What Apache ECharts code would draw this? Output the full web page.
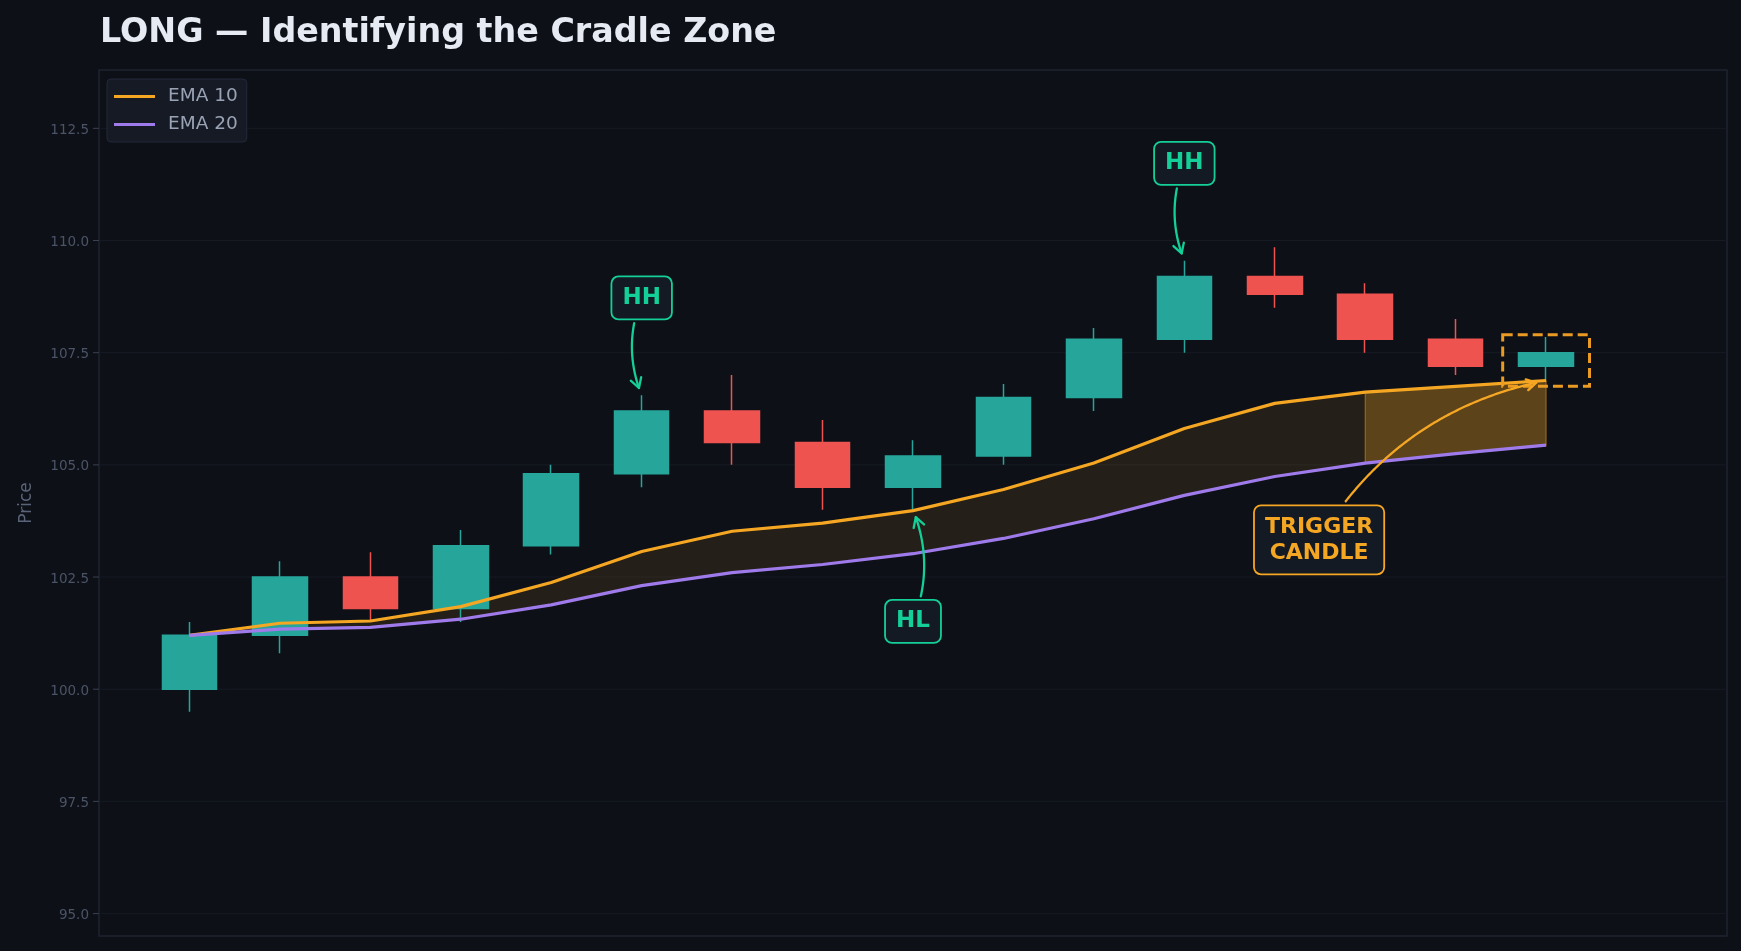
<!DOCTYPE html>
<html>
<head>
<meta charset="UTF-8">
<script src="https://cdn.jsdelivr.net/npm/echarts@6/dist/echarts.min.js"></script>
<style>
html, body { margin: 0; padding: 0; background: #0d1017; }
#chart { width: 1741px; height: 951px; }
</style>
</head>
<body>
<div id="chart"></div>
<script>
// ---------- data ----------
const opens  = [100.0, 101.2, 102.5, 101.8, 103.2, 104.8, 106.2, 105.5, 104.5, 105.2, 106.5, 107.8, 109.2, 108.8, 107.8, 107.2];
const closes = [101.2, 102.5, 101.8, 103.2, 104.8, 106.2, 105.5, 104.5, 105.2, 106.5, 107.8, 109.2, 108.8, 107.8, 107.2, 107.5];
const lows   = [99.5, 100.8, 101.5, 101.5, 103.0, 104.5, 105.0, 104.0, 104.0, 105.0, 106.2, 107.5, 108.5, 107.5, 107.0, 106.9];
const highs  = [101.5, 102.85, 103.05, 103.55, 105.0, 106.55, 107.0, 106.0, 105.55, 106.8, 108.05, 109.55, 109.85, 109.05, 108.25, 107.85];

const ema10 = [101.2, 101.47, 101.52, 101.84, 102.38, 103.07, 103.52, 103.7, 103.98, 104.45, 105.04, 105.81, 106.37, 106.62, 106.75, 106.88];
const ema20 = [101.2, 101.34, 101.38, 101.56, 101.88, 102.31, 102.6, 102.78, 103.02, 103.36, 103.8, 104.32, 104.74, 105.04, 105.25, 105.44];

const yTicks = [95, 97.5, 100, 102.5, 105, 107.5, 110, 112.5];
const cradleRange = [13, 15];

const noteLabels = ['HH', 'HL', 'HH', 'TRIGGER\nCANDLE'];
const noteAt     = [[5, 108.72], [8, 101.51], [11, 111.72], [12.49, 103.33]];
const noteTarget = [[5, highs[5]], [8, lows[8]], [11, highs[11]], [15, ema10[15]]];
const noteBend   = [0.2, 0.2, 0.2, -0.22];

const triggerFrame = [[14.52, 107.9], [15.48, 106.75]];

// ---------- look ----------
const BG = '#0d1017';
const GREEN = '#26a69a';
const RED = '#ef5350';
const ORANGE = '#f5a623';
const PURPLE = '#9f7aea';
const NOTE_GREEN = '#14cf98';
const FONT = 'DejaVu Sans';

const X_MIN = -1, X_MAX = 17;

const measureCtx = document.createElement('canvas').getContext('2d');

function textWidth(lines, font) {
    measureCtx.font = font;
    return Math.max.apply(null, lines.map(l => measureCtx.measureText(l).width));
}

// y grid, ticks and tick labels
function renderGrid(params, api) {
    const cs = params.coordSys;
    const v = api.value(1);
    const y = api.coord([X_MIN, v])[1];
    return {
        type: 'group',
        children: [
            { type: 'line', shape: { x1: cs.x, y1: y, x2: cs.x + cs.width, y2: y },
              style: { stroke: '#161a23', lineWidth: 1 } },
            { type: 'line', shape: { x1: cs.x - 6, y1: y, x2: cs.x, y2: y },
              style: { stroke: '#3a4152', lineWidth: 1 } },
            { type: 'text', x: cs.x - 10, y: y + 2,
              style: { text: v.toFixed(1), align: 'right', verticalAlign: 'middle',
                       fill: '#4b5467', font: '13.5px "' + FONT + '"' } }
        ]
    };
}

function bandPoints(api, from, to) {
    const pts = [];
    for (let i = from; i <= to; i++) pts.push(api.coord([i, ema10[i]]));
    for (let i = to; i >= from; i--) pts.push(api.coord([i, ema20[i]]));
    return pts;
}

function renderBand(params, api) {
    return {
        type: 'polygon',
        shape: { points: bandPoints(api, 0, ema10.length - 1) },
        style: { fill: 'rgba(245,166,35,0.1)' }
    };
}

function renderCradle(params, api) {
    return {
        type: 'polygon',
        shape: { points: bandPoints(api, cradleRange[0], cradleRange[1]) },
        style: { fill: 'rgba(245,166,35,0.27)', stroke: 'rgba(245,166,35,0.45)', lineWidth: 1.2 }
    };
}

function quad(p0, c, p2, t) {
    const u = 1 - t;
    return [u * u * p0[0] + 2 * u * t * c[0] + t * t * p2[0],
            u * u * p0[1] + 2 * u * t * c[1] + t * t * p2[1]];
}

function renderNote(params, api) {
    const idx = api.value(2);
    const label = noteLabels[idx];
    const lines = label.split('\n');
    const isTrigger = lines.length > 1;
    const color = isTrigger ? ORANGE : NOTE_GREEN;
    const size = isTrigger ? 22 : 23;
    const font = 'bold ' + size + 'px "' + FONT + '"';
    const lineH = 26;
    const w = textWidth(lines, font) + 22;
    const h = lines.length * lineH + 17;

    const c0 = api.coord(noteAt[idx]);
    const p2 = api.coord(noteTarget[idx]);
    const box = { x: c0[0] - w / 2, y: c0[1] - h / 2, w: w, h: h };

    // curved connector (arc-like quadratic), clipped at the box and shrunk at the target
    const dx = p2[0] - c0[0], dy = p2[1] - c0[1];
    const rad = noteBend[idx];
    const ctrl = [(c0[0] + p2[0]) / 2 - rad * dy, (c0[1] + p2[1]) / 2 + rad * dx];
    const shrink = isTrigger ? 8 : 7;
    const pts = [];
    for (let i = 0; i <= 120; i++) {
        const p = quad(c0, ctrl, p2, i / 120);
        const inside = p[0] > box.x - 3 && p[0] < box.x + box.w + 3 &&
                       p[1] > box.y - 3 && p[1] < box.y + box.h + 3;
        const near = Math.hypot(p[0] - p2[0], p[1] - p2[1]) < shrink;
        if (!inside && !near) pts.push(p);
    }
    const tip = pts[pts.length - 1];
    const prev = pts[pts.length - 4];
    const ang = Math.atan2(tip[1] - prev[1], tip[0] - prev[0]);
    const hl = 11, ha = 0.52;
    const head = [
        [tip[0] - hl * Math.cos(ang - ha), tip[1] - hl * Math.sin(ang - ha)],
        tip,
        [tip[0] - hl * Math.cos(ang + ha), tip[1] - hl * Math.sin(ang + ha)]
    ];

    return {
        type: 'group',
        children: [
            { type: 'polyline', shape: { points: pts },
              style: { stroke: color, lineWidth: 2.3, fill: null, lineCap: 'round' } },
            { type: 'polyline', shape: { points: head },
              style: { stroke: color, lineWidth: 2.3, fill: null, lineCap: 'round', lineJoin: 'round' } },
            { type: 'rect', shape: { x: box.x, y: box.y, width: box.w, height: box.h, r: 7 },
              style: { fill: '#131a23', stroke: color, lineWidth: 1.8 } },
            { type: 'text', x: c0[0], y: c0[1],
              style: { text: label, align: 'center', verticalAlign: 'middle',
                       font: font, fill: color, lineHeight: lineH } }
        ]
    };
}

function renderFrame(params, api) {
    const a = api.coord(triggerFrame[0]);
    const b = api.coord(triggerFrame[1]);
    return {
        type: 'rect',
        shape: { x: a[0], y: a[1], width: b[0] - a[0], height: b[1] - a[1] },
        style: { fill: null, stroke: '#eb9a22', lineWidth: 3, lineDash: [10, 5] }
    };
}

const chart = echarts.init(document.getElementById('chart'));

chart.setOption({
    animation: false,
    backgroundColor: BG,
    textStyle: { fontFamily: FONT },
    title: {
        text: 'LONG — Identifying the Cradle Zone',
        left: 100,
        top: 17,
        padding: 0,
        textStyle: { color: '#e6eaf2', fontSize: 33.3, fontWeight: 'bold', fontFamily: FONT }
    },
    legend: {
        data: ['EMA 10', 'EMA 20'],
        orient: 'vertical',
        left: 107,
        top: 79,
        icon: 'rect',
        itemWidth: 41,
        itemHeight: 3,
        itemGap: 9,
        padding: [8, 9, 8, 7],
        backgroundColor: '#151a24',
        borderColor: '#222939',
        borderWidth: 1,
        borderRadius: 4,
        textStyle: { color: '#9aa3b5', fontSize: 18.5, fontFamily: FONT, padding: [0, 0, 0, 8] }
    },
    grid: {
        left: 99, top: 70, right: 14, bottom: 15,
        show: true,
        backgroundColor: BG,
        borderColor: '#1e2331',
        borderWidth: 1.5
    },
    xAxis: {
        type: 'value', min: X_MIN, max: X_MAX,
        axisLine: { show: false }, axisTick: { show: false },
        axisLabel: { show: false }, splitLine: { show: false }
    },
    yAxis: {
        type: 'value', min: 94.5, max: 113.8,
        name: 'Price',
        nameLocation: 'middle',
        nameGap: 64,
        nameTextStyle: { color: '#5a6478', fontSize: 17, fontFamily: FONT },
        axisLine: { show: false }, axisTick: { show: false },
        axisLabel: { show: false }, splitLine: { show: false }
    },
    series: [
        {
            type: 'custom', name: 'grid', z: 0, silent: true,
            renderItem: renderGrid,
            data: yTicks.map(v => [X_MIN, v])
        },
        {
            type: 'custom', name: 'band', z: 1, silent: true,
            renderItem: renderBand,
            data: [[0, ema20[0]]]
        },
        {
            type: 'candlestick', name: 'candles', z: 2,
            barWidth: 55,
            encode: { x: 0, y: [1, 2, 3, 4] },
            itemStyle: {
                color: GREEN, color0: RED,
                borderColor: GREEN, borderColor0: RED,
                borderWidth: 1.5
            },
            data: opens.map((o, i) => [i, o, closes[i], lows[i], highs[i]])
        },
        {
            type: 'custom', name: 'cradle', z: 3, silent: true,
            renderItem: renderCradle,
            data: [[cradleRange[0], ema20[cradleRange[0]]]]
        },
        {
            type: 'line', name: 'EMA 10', z: 4,
            symbol: 'none', color: ORANGE,
            lineStyle: { color: ORANGE, width: 3.2 },
            data: ema10.map((v, i) => [i, v])
        },
        {
            type: 'line', name: 'EMA 20', z: 4,
            symbol: 'none', color: PURPLE,
            lineStyle: { color: PURPLE, width: 3.2 },
            data: ema20.map((v, i) => [i, v])
        },
        {
            type: 'custom', name: 'frame', z: 5, silent: true,
            renderItem: renderFrame,
            data: [[15, closes[15]]]
        },
        {
            type: 'custom', name: 'notes', z: 6, silent: true,
            renderItem: renderNote,
            data: noteAt.map((p, i) => [p[0], p[1], i])
        }
    ]
});
</script>
</body>
</html>
